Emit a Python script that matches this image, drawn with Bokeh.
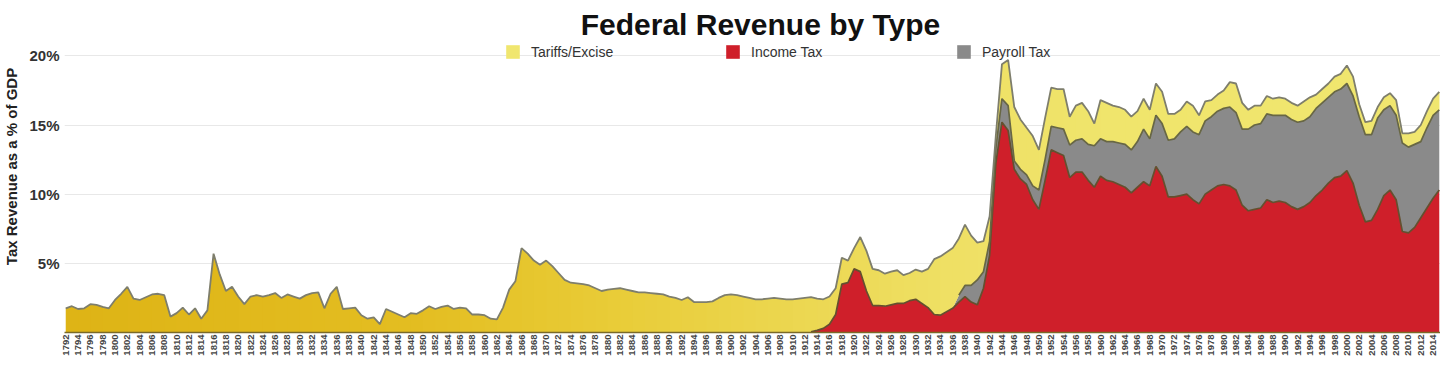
import numpy as np
from bokeh.plotting import figure
from bokeh.models import Range1d, FixedTicker, Legend, LegendItem, Label
from bokeh.embed import file_html
from bokeh.resources import INLINE

# ---------------- data (% of GDP) ----------------
first_year = 1792
last_year = 2015

tariffs_excise = [
    # 1792-1799
    1.75, 1.9, 1.7, 1.75, 2.05, 2.0, 1.85, 1.75,
    # 1800s
    2.35, 2.8, 3.3, 2.45, 2.35, 2.55, 2.75, 2.8, 2.7, 1.15,
    # 1810s
    1.4, 1.8, 1.3, 1.75, 1.0, 1.6, 5.7, 4.2, 3.0, 3.3,
    # 1820s
    2.6, 2.05, 2.6, 2.7, 2.6, 2.7, 2.85, 2.5, 2.75, 2.6,
    # 1830s
    2.45, 2.7, 2.85, 2.9, 1.75, 2.8, 3.3, 1.7, 1.75, 1.8,
    # 1840s
    1.25, 1.0, 1.1, 0.6, 1.7, 1.5, 1.3, 1.1, 1.4, 1.35,
    # 1850s
    1.6, 1.9, 1.7, 1.85, 1.95, 1.7, 1.8, 1.75, 1.3, 1.3,
    # 1860s
    1.25, 1.0, 0.95, 1.8, 3.1, 3.7, 6.1, 5.7, 5.2, 4.9,
    # 1870s
    5.2, 4.8, 4.3, 3.8, 3.6, 3.55, 3.5, 3.4, 3.2, 3.0,
    # 1880s
    3.1, 3.15, 3.2, 3.1, 3.0, 2.9, 2.9, 2.85, 2.8, 2.75,
    # 1890s
    2.6, 2.5, 2.35, 2.55, 2.2, 2.2, 2.2, 2.25, 2.5, 2.7,
    # 1900s
    2.75, 2.7, 2.6, 2.5, 2.4, 2.4, 2.45, 2.5, 2.45, 2.4,
    # 1910s
    2.4, 2.45, 2.5, 2.5, 2.3, 2.1, 2.0, 1.9, 1.9, 1.6,
    # 1920s
    1.5, 2.5, 2.9, 2.65, 2.55, 2.35, 2.4, 2.4, 2.05, 2.0,
    # 1930s
    2.15, 2.3, 2.8, 4.0, 4.25, 4.3, 4.35, 4.1, 4.4, 3.6,
    # 1940s
    2.7, 2.2, 1.8, 0.9, 2.5, 3.3, 3.9, 3.6, 3.4, 3.6,
    # 1950s
    2.9, 3.0, 2.8, 2.8, 2.9, 2.05, 2.5, 2.6, 2.4, 1.6,
    # 1960s
    2.8, 2.8, 2.6, 2.6, 2.5, 2.4, 2.2, 2.2, 2.1, 2.3,
    # 1970s
    2.3, 1.9, 1.8, 1.6, 1.8, 1.9, 1.4, 1.4, 1.2, 1.2,
    # 1980s
    1.3, 1.8, 2.1, 1.9, 1.4, 1.4, 1.3, 1.3, 1.2, 1.3,
    # 1990s
    1.2, 1.2, 1.2, 1.4, 1.4, 1.0, 1.0, 1.0, 1.1, 1.1,
    # 2000s
    1.3, 1.4, 0.9, 0.9, 1.0, 0.8, 0.9, 0.9, 1.1, 0.7,
    # 2010-2015
    1.0, 0.9, 1.2, 1.2, 1.2, 1.3,
]

income_start = 1913
income_tax = [
    0.05, 0.15, 0.3, 0.6, 1.3, 3.5, 3.6,
    4.6, 4.4, 3.0, 1.95, 1.95, 1.9, 2.0, 2.1, 2.1, 2.3,
    2.4, 2.1, 1.8, 1.3, 1.25, 1.5, 1.75, 2.2, 2.6, 2.2,
    2.0, 3.2, 5.6, 12.2, 15.2, 14.6, 11.8, 11.1, 10.7, 9.6,
    8.9, 11.0, 13.2, 13.0, 12.8, 11.2, 11.6, 11.6, 11.0, 10.5,
    11.3, 11.0, 10.9, 10.7, 10.5, 10.1, 10.5, 10.9, 10.6, 12.0,
    11.3, 9.8, 9.8, 9.9, 10.0, 9.6, 9.3, 10.0, 10.3, 10.6,
    10.7, 10.6, 10.3, 9.2, 8.8, 8.9, 9.0, 9.6, 9.4, 9.5,
    9.4, 9.1, 8.9, 9.1, 9.4, 9.9, 10.3, 10.8, 11.2, 11.3,
    11.7, 10.8, 9.2, 8.0, 8.1, 8.9, 9.9, 10.3, 9.6, 7.3,
    7.2, 7.6, 8.3, 9.0, 9.7, 10.3,
]

payroll_start = 1937
payroll_tax = [
    0.5, 0.8, 1.2,
    1.8, 1.2, 1.0, 1.1, 1.7, 1.8, 0.6, 0.7, 0.7, 1.0,
    1.4, 1.5, 1.7, 1.8, 1.9, 2.35, 2.3, 2.4, 2.6, 3.0,
    2.7, 2.8, 2.9, 3.0, 3.1, 3.1, 3.3, 3.8, 3.4, 3.7,
    3.8, 4.1, 4.2, 4.6, 4.9, 4.9, 5.0, 5.3, 5.3, 5.4,
    5.5, 5.7, 5.6, 5.5, 5.9, 6.1, 6.1, 6.2, 6.3, 6.2,
    6.3, 6.3, 6.3, 6.2, 6.2, 6.3, 6.3, 6.2, 6.2, 6.3,
    6.3, 6.3, 6.4, 6.3, 6.2, 6.6, 6.2, 6.1, 6.1, 6.4,
    6.2, 6.0, 5.5, 5.8, 6.0, 5.8,
]

series_names = ["Tariffs/Excise", "Income Tax", "Payroll Tax"]
y_ticks = [5, 10, 15, 20]
y_tick_labels = ["5%", "10%", "15%", "20%"]
x_ticks = list(range(1792, 2015, 2))
title_text = "Federal Revenue by Type"
y_axis_title = "Tax Revenue as a % of GDP"

# ---------------- build stacked table ----------------
years = np.arange(first_year, last_year + 1)
n = len(years)
inc = np.zeros(n)
inc[income_start - first_year:] = income_tax
pay = np.zeros(n)
pay[payroll_start - first_year:] = payroll_tax
tar = np.array(tariffs_excise, dtype=float)

inc_top = inc
pay_top = inc + pay
tar_top = pay_top + tar

# ---------------- figure ----------------
p = figure(width=1440, height=358, output_backend="svg", toolbar_location=None,
           x_range=Range1d(1791.8, 2015.2), y_range=Range1d(0, 24.0),
           min_border_left=59, min_border_right=0, min_border_top=0,
           min_border_bottom=25)
p.outline_line_color = None
p.background_fill_color = "white"
p.border_fill_color = "white"

RED = "#CF1F2A"
GRAY = "#8A8A8A"

r_inc = p.varea(x=years, y1=np.zeros(n), y2=inc_top, fill_color=RED)
r_pay = p.varea(x=years, y1=inc_top, y2=pay_top, fill_color=GRAY)

# yellow layer with a left-to-right gold -> pale gradient (drawn as overlapping slices)
stops_y = [1792, 1850, 1880, 1910, 1935, 1960, 2015]
stops_c = [(222, 180, 22), (228, 190, 34), (233, 204, 55), (236, 215, 80),
           (239, 224, 100), (240, 229, 108), (241, 231, 112)]
def grad(yr):
    r = np.interp(yr, stops_y, [c[0] for c in stops_c])
    g = np.interp(yr, stops_y, [c[1] for c in stops_c])
    b = np.interp(yr, stops_y, [c[2] for c in stops_c])
    return "#%02x%02x%02x" % (int(r), int(g), int(b))

tar_renderers = []
for i in range(0, n - 1, 2):
    sl = slice(i, min(i + 4, n))
    mid = years[sl].mean()
    r = p.varea(x=years[sl], y1=pay_top[sl], y2=tar_top[sl], fill_color=grad(mid))
    tar_renderers.append(r)

# outlines
ii = income_start - first_year
ip = payroll_start - first_year
p.line(years[ii:], inc_top[ii:], line_color="#64502f", line_width=1.7)
p.line(years[ip:], pay_top[ip:], line_color="#686744", line_width=1.7)
p.line(years, tar_top, line_color="#7e7e6c", line_width=1.8)

# axes
p.xgrid.grid_line_color = None
p.ygrid.grid_line_color = "#e8e8e8"
p.ygrid.grid_line_width = 1

p.yaxis.ticker = FixedTicker(ticks=y_ticks)
p.yaxis.major_label_overrides = {t: l for t, l in zip(y_ticks, y_tick_labels)}
p.yaxis.axis_line_color = None
p.yaxis.major_tick_line_color = None
p.yaxis.minor_tick_line_color = None
p.yaxis.major_tick_out = 0
p.yaxis.major_tick_in = 0
p.yaxis.minor_tick_out = 0
p.yaxis.major_label_text_font = "Liberation Sans"
p.yaxis.major_label_text_font_size = "15px"
p.yaxis.major_label_text_font_style = "bold"
p.yaxis.major_label_text_color = "#333333"
p.yaxis.major_label_standoff = 5
p.yaxis.axis_label = y_axis_title
p.yaxis.axis_label_text_font = "Liberation Sans"
p.yaxis.axis_label_text_font_size = "15px"
p.yaxis.axis_label_text_font_style = "bold"
p.yaxis.axis_label_text_color = "#222222"
p.yaxis.axis_label_standoff = 6

p.xaxis.ticker = FixedTicker(ticks=x_ticks)
p.xaxis.axis_label = None
p.xaxis.axis_label_standoff = 0
p.xaxis.major_label_orientation = np.pi / 2
p.xaxis.major_label_text_font = "Liberation Sans"
p.xaxis.major_label_text_font_size = "9.5px"
p.xaxis.major_label_text_font_style = "bold"
p.xaxis.major_label_text_color = "#444444"
p.xaxis.major_label_standoff = 2
p.xaxis.major_tick_line_color = None
p.xaxis.minor_tick_line_color = None
p.xaxis.major_tick_out = 0
p.xaxis.major_tick_in = 0
p.xaxis.minor_tick_out = 0
p.xaxis.axis_line_color = "#7a6a28"
p.xaxis.axis_line_width = 1.5

# title
p.add_layout(Label(x=696, y=308, x_units="screen", y_units="screen", text=title_text,
                   text_align="center", text_baseline="alphabetic",
                   text_font="Liberation Sans", text_font_size="30px",
                   text_font_style="bold", text_color="#111111"))

# legend (three single-item legends laid out horizontally)
leg_renderers = [[tar_renderers[-1]], [r_inc], [r_pay]]
leg_x = [440, 660, 891]
for name, rs, lx in zip(series_names, leg_renderers, leg_x):
    lg = Legend(items=[LegendItem(label=name, renderers=rs)], location=(lx, 272),
                orientation="horizontal", padding=0, margin=0, spacing=0,
                glyph_width=17, glyph_height=17, label_standoff=10,
                label_text_font="Liberation Sans", label_text_font_size="14px",
                label_text_color="#333333", border_line_color=None,
                background_fill_alpha=0)
    p.add_layout(lg)

open("out.html", "w").write(file_html(p, INLINE))
